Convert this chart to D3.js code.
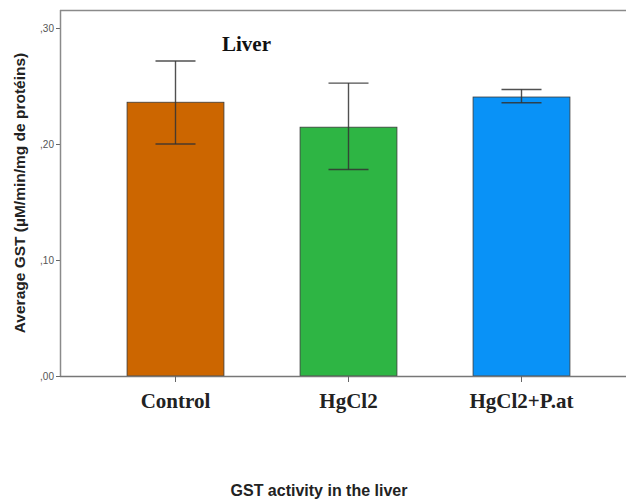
<!DOCTYPE html>
<html>
<head>
<meta charset="utf-8">
<script src="https://cdn.jsdelivr.net/npm/d3@7"></script>
<style>
  body { margin: 0; background: #fff; }
  svg { display: block; }
</style>
</head>
<body>
<div id="chart"></div>
<script>
// data
var groups = ["Control", "HgCl2", "HgCl2+P.at"];
var means = [0.236, 0.2145, 0.2405];
var errLow = [0.200, 0.178, 0.2355];
var errHigh = [0.2715, 0.2525, 0.247];
var yTicks = [0, 0.10, 0.20, 0.30];
var barColors = ["#cc6600", "#2eb544", "#0992f7"];

var width = 626, height = 499;
var svg = d3.select("#chart").append("svg")
    .attr("width", width)
    .attr("height", height);

var y = d3.scaleLinear().domain([0, 0.3]).range([376, 28]);
var x = d3.scaleBand().domain(groups).range([89, 608])
    .paddingInner(0.44).paddingOuter(0.22);

// frame: top line
svg.append("line")
    .attr("x1", 60).attr("x2", width)
    .attr("y1", 10.5).attr("y2", 10.5)
    .attr("stroke", "#8a8a8a").attr("stroke-width", 1.5);

// bars
var rows = groups.map(function (g, i) {
    return { name: g, mean: means[i], lo: errLow[i], hi: errHigh[i], color: barColors[i] };
});

svg.selectAll("rect.bar")
    .data(rows)
    .enter()
    .append("rect")
    .attr("class", "bar")
    .attr("x", function (d) { return x(d.name); })
    .attr("y", function (d) { return y(d.mean); })
    .attr("width", x.bandwidth())
    .attr("height", function (d) { return y(0) - y(d.mean); })
    .style("fill", function (d) { return d.color; })
    .style("stroke", "#3a3a3a")
    .style("stroke-width", 0.8);

// error bars
var eb = svg.selectAll("g.err").data(rows).enter().append("g").attr("class", "err");
var cx = function (d) { return x(d.name) + x.bandwidth() / 2; };
eb.append("line")
    .attr("x1", cx).attr("x2", cx)
    .attr("y1", function (d) { return y(d.hi); })
    .attr("y2", function (d) { return y(d.lo); });
eb.append("line")
    .attr("x1", function (d) { return cx(d) - 20; })
    .attr("x2", function (d) { return cx(d) + 20; })
    .attr("y1", function (d) { return y(d.hi); })
    .attr("y2", function (d) { return y(d.hi); });
eb.append("line")
    .attr("x1", function (d) { return cx(d) - 20; })
    .attr("x2", function (d) { return cx(d) + 20; })
    .attr("y1", function (d) { return y(d.lo); })
    .attr("y2", function (d) { return y(d.lo); });
eb.selectAll("line")
    .attr("stroke", "#333").attr("stroke-width", 1.4).attr("opacity", 0.85);

// y axis
var yAxis = svg.append("g")
    .attr("transform", "translate(60,0)")
    .call(d3.axisLeft(y).tickValues(yTicks).tickSize(4).tickPadding(2)
        .tickFormat(function (d) { return d3.format(".2f")(d).replace("0.", ","); }));
yAxis.select(".domain").remove();
yAxis.selectAll(".tick line").attr("stroke", "#666");
yAxis.selectAll(".tick text")
    .attr("fill", "#555")
    .style("font-family", "Arial, 'Liberation Sans', sans-serif")
    .style("font-size", "10px");
svg.append("line")
    .attr("x1", 60.5).attr("x2", 60.5)
    .attr("y1", 10).attr("y2", 376)
    .attr("stroke", "#8a8a8a").attr("stroke-width", 1.5);

// x axis
var xAxis = svg.append("g")
    .attr("transform", "translate(0,376)")
    .call(d3.axisBottom(x).tickSize(6).tickPadding(11).tickSizeOuter(0));
xAxis.select(".domain")
    .attr("d", "M60,0.5H" + width)
    .attr("stroke", "#777").attr("stroke-width", 1.3);
xAxis.selectAll(".tick line").attr("stroke", "#666");
xAxis.selectAll(".tick text")
    .attr("fill", "#222")
    .style("font-family", "'Liberation Serif', 'Times New Roman', serif")
    .style("font-weight", "bold")
    .style("font-size", "21px");

// panel label
svg.append("text")
    .attr("x", 222).attr("y", 51)
    .attr("fill", "#111")
    .style("font-family", "'Liberation Serif', 'Times New Roman', serif")
    .style("font-weight", "bold")
    .style("font-size", "21px")
    .text("Liver");

// axis titles
svg.append("text")
    .attr("transform", "translate(25,193) rotate(-90)")
    .attr("text-anchor", "middle")
    .attr("fill", "#222")
    .style("font-family", "Arial, 'Liberation Sans', sans-serif")
    .style("font-weight", "bold")
    .style("font-size", "15.5px")
    .text("Average GST (µM/min/mg de protéins)");

svg.append("text")
    .attr("x", 319).attr("y", 496)
    .attr("text-anchor", "middle")
    .attr("fill", "#222")
    .style("font-family", "Arial, 'Liberation Sans', sans-serif")
    .style("font-weight", "bold")
    .style("font-size", "16px")
    .text("GST activity in the liver");
</script>
</body>
</html>
